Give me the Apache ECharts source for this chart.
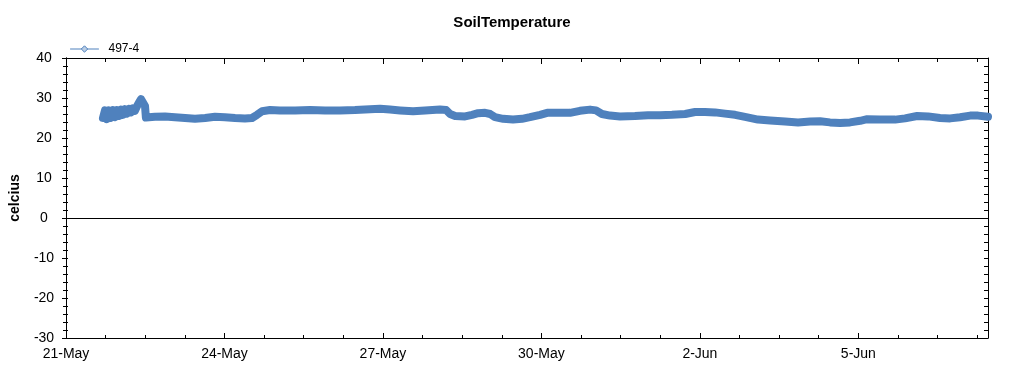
<!DOCTYPE html>
<html>
<head>
<meta charset="utf-8">
<script src="https://cdn.jsdelivr.net/npm/echarts@6/dist/echarts.min.js"></script>
<style>
  html, body { margin: 0; padding: 0; background: #fff; }
  #chart { width: 1024px; height: 375px; }
</style>
</head>
<body>
<div id="chart"></div>
<script>
// Hours since 21-May 00:00
var hours = [
  16.8, 17.7, 18.6, 19.5, 20.4, 21.4, 22.3, 23.2, 24.1, 25.0, 25.9, 26.8, 27.7, 28.6, 29.5, 30.4,
  31.3, 32.3, 33.2, 34.1, 35.0, 35.9, 36.3,
  40.4, 45.0, 49.5, 54.1, 58.6, 63.2, 67.7, 72.2, 76.8, 81.3, 84.5, 86.8, 89.1, 92.7, 97.2,
  104.1, 110.9, 117.7, 124.5, 131.3, 138.1, 142.7, 147.2, 151.8, 157.7, 163.1, 169.9, 172.7,
  174.5, 176.8, 181.3, 184.5, 187.2, 190.4, 192.7, 194.9, 198.6, 203.1, 207.2, 210.8, 215.4,
  218.6, 224.5, 229.0, 233.5, 238.1, 240.8, 243.5, 247.2, 251.7, 258.5, 264.4, 269.9, 275.3,
  281.3, 285.8, 290.3, 294.9, 299.4, 304.0, 308.5, 314.4, 319.9, 326.7, 332.6, 338.1, 342.6,
  347.1, 351.7, 356.2, 360.8, 364.0, 369.9, 376.7, 381.2, 386.7, 391.7, 397.1, 401.7, 406.2,
  410.8, 414.4, 418.9
];
// Soil temperature (celcius)
var temps = [
  25.0, 26.9, 24.7, 26.9, 25.0, 27.0, 25.2, 27.0, 25.5, 27.1, 25.8, 27.2, 26.1, 27.3, 26.4, 27.4,
  26.8, 28.0, 28.9, 29.7, 29.4, 28.0, 25.1,
  25.3, 25.4, 25.2, 25.0, 24.8, 25.0, 25.3, 25.2, 25.0, 24.9, 25.0, 25.8, 26.7, 27.0, 26.9,
  26.9, 27.0, 26.9, 26.9, 27.0, 27.2, 27.3, 27.1, 26.9, 26.7, 26.9, 27.1, 27.0,
  26.0, 25.5, 25.4, 25.8, 26.2, 26.3, 26.0, 25.2, 24.8, 24.6, 24.8, 25.2, 25.8,
  26.3, 26.3, 26.3, 26.8, 27.1, 26.9, 26.0, 25.6, 25.4, 25.5, 25.7, 25.7, 25.8,
  26.0, 26.5, 26.5, 26.4, 26.1, 25.8, 25.3, 24.6, 24.4, 24.1, 23.9, 24.1, 24.2,
  23.9, 23.75, 23.9, 24.3, 24.7, 24.6, 24.6, 24.9, 25.5, 25.4, 25.0, 24.9, 25.2,
  25.6, 25.6, 25.3
];
var xTickLabels = ['21-May', '24-May', '27-May', '30-May', '2-Jun', '5-Jun'];
var seriesName = '497-4';

var seriesData = hours.map(function (h, i) { return [h, temps[i]]; });

var FONT = 'Liberation Sans, Arial, sans-serif';
var chart = echarts.init(document.getElementById('chart'), null, { renderer: 'canvas' });

var xCommon = {
  type: 'value', min: 0, max: 418.9, interval: 72,
  splitLine: { show: false },
  axisLine: { show: true, onZero: false, lineStyle: { color: '#000', width: 1 } }
};
var yCommon = {
  type: 'value', min: -30, max: 40, interval: 10,
  splitLine: { show: false },
  axisLine: { show: true, onZero: false, lineStyle: { color: '#000', width: 1 } }
};

chart.setOption({
  animation: false,
  backgroundColor: '#fff',
  title: {
    text: 'SoilTemperature', left: 'center', top: 10,
    textStyle: { fontFamily: FONT, fontSize: 15, fontWeight: 'bold', color: '#000' }
  },
  legend: {
    left: 65, top: 38,
    itemWidth: 28, itemHeight: 8, itemGap: 10,
    textStyle: { fontFamily: FONT, fontSize: 12, color: '#000', padding: [0, 0, 0, 5] },
    itemStyle: { color: '#b9cde5', borderColor: '#4f81bd', borderWidth: 1 },
    lineStyle: { color: '#4f81bd', width: 1 },
    data: [seriesName]
  },
  grid: { left: 66, right: 36, top: 58, bottom: 37, containLabel: false },
  xAxis: [
    Object.assign({}, xCommon, {
      position: 'bottom',
      axisTick: { show: true, inside: true, length: 5, lineStyle: { color: '#000' } },
      minorTick: { show: true, splitNumber: 4, length: 3, lineStyle: { color: '#000' } },
      axisLabel: {
        show: true, margin: 9, color: '#000', fontFamily: FONT, fontSize: 14,
        showMaxLabel: false,
        formatter: function (v) {
          var idx = Math.round(v / 72);
          return (Math.abs(v - idx * 72) < 0.01 && xTickLabels[idx]) ? xTickLabels[idx] : '';
        }
      }
    }),
    Object.assign({}, xCommon, {
      position: 'top',
      axisTick: { show: true, inside: true, length: 6, lineStyle: { color: '#000' } },
      minorTick: { show: true, splitNumber: 4, length: 4, lineStyle: { color: '#000' } },
      axisLabel: { show: false }
    })
  ],
  yAxis: [
    Object.assign({}, yCommon, {
      position: 'left',
      name: 'celcius', nameLocation: 'middle', nameGap: 44, nameRotate: 90,
      nameTextStyle: { fontFamily: FONT, fontSize: 14, fontWeight: 'bold', color: '#000' },
      axisTick: { show: true, inside: false, length: 4, lineStyle: { color: '#000' } },
      minorTick: { show: true, splitNumber: 5, length: 3, lineStyle: { color: '#000' } },
      axisLabel: { show: true, margin: 22, align: 'center', color: '#000', fontFamily: FONT, fontSize: 14 }
    }),
    Object.assign({}, yCommon, {
      position: 'left',
      axisTick: { show: true, inside: true, length: 2, lineStyle: { color: '#000' } },
      minorTick: { show: true, splitNumber: 5, length: 2, lineStyle: { color: '#000' } },
      axisLabel: { show: false }
    }),
    Object.assign({}, yCommon, {
      position: 'right',
      axisTick: { show: true, inside: true, length: 4, lineStyle: { color: '#000' } },
      minorTick: { show: true, splitNumber: 5, length: 4, lineStyle: { color: '#000' } },
      axisLabel: { show: false }
    })
  ],
  series: [{
    name: seriesName,
    type: 'line',
    xAxisIndex: 0, yAxisIndex: 0,
    data: seriesData,
    symbol: 'diamond', symbolSize: 8, showSymbol: false,
    lineStyle: { color: '#4f81bd', width: 8, cap: 'round', join: 'round' },
    itemStyle: { color: '#b9cde5', borderColor: '#4f81bd', borderWidth: 1 },
    markLine: {
      silent: true, symbol: 'none', label: { show: false },
      lineStyle: { color: '#000', width: 1, type: 'solid' },
      data: [{ yAxis: 0 }]
    }
  }]
});
</script>
</body>
</html>
